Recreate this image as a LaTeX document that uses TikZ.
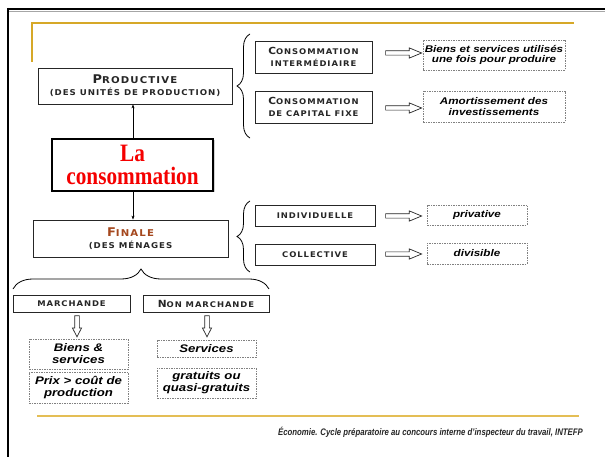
\documentclass[tikz,border=0pt]{standalone}
\usepackage{fontspec}
\setmainfont{Liberation Sans}
\newfontfamily\cop[FakeStretch=1.08,LetterSpace=12]{DejaVu Sans}
\newfontfamily\redser[FakeStretch=0.85]{Liberation Serif}
\newfontfamily\bi[FakeStretch=1.2]{Liberation Sans}
\newfontfamily\foot[FakeStretch=0.82]{Liberation Sans}
\usetikzlibrary{shapes.arrows,decorations.pathreplacing,arrows.meta,shadows}
\definecolor{goldA}{RGB}{214,168,40}
\definecolor{goldB}{RGB}{228,190,85}
\definecolor{brownF}{RGB}{165,72,30}
\definecolor{redC}{RGB}{245,0,0}
\newcommand\scHead[2]{{\fontsize{12}{13}\selectfont #1\fontsize{9.4}{13}\selectfont #2}}
\newcommand\scSub[1]{{\fontsize{8}{13}\selectfont #1}}
\newcommand\scBox[2]{{\fontsize{9.8}{15}\selectfont #1\fontsize{7.8}{15}\selectfont #2}}
\begin{document}
\begin{tikzpicture}[x=1pt,y=-1pt,
  solidbox/.style={draw=black!85, line width=0.8pt, inner sep=0pt, align=center, fill=white,
    text=black!85, font=\cop\bfseries, drop shadow={shadow xshift=1pt, shadow yshift=-1pt, opacity=0.3}},
  dbox/.style={draw=black!50, dash pattern=on 1.5pt off 1pt, line width=0.6pt, inner sep=0pt,
    align=center, fill=white, font=\bi\bfseries\itshape\fontsize{9.7}{10.5}\selectfont},
  dboxb/.style={dbox, font=\bi\bfseries\itshape\fontsize{11}{12}\selectfont},
  harrow/.style={single arrow, draw=black!85, fill=white, line width=0.7pt, inner sep=1.8pt,
    minimum height=36pt, single arrow head extend=3pt, single arrow tip angle=45},
  varrow/.style={single arrow, draw=black!85, fill=white, line width=0.7pt, inner sep=2pt,
    minimum height=21pt, single arrow head extend=2.2pt, single arrow tip angle=55,
    shape border rotate=270},
  brc/.style={decorate, decoration={brace, amplitude=13pt}, line width=0.8pt},
  conn/.style={line width=0.6pt, -{Stealth[length=4pt,width=3pt]}}
]
\useasboundingbox (0,0) rectangle (605,457);
\fill[white] (0,0) rectangle (605,457);
% frame
\draw[black!35, line width=1.5pt] (9,11.5) -- (605,11.5);
\draw[black, line width=2.5pt] (8,9) -- (605,9);
\draw[black, line width=2.5pt] (8,8) -- (8,457);
% gold lines
\draw[goldA, line width=1.5pt] (32,62) -- (32,23) -- (574,23);
\draw[goldB, line width=2pt] (37,416) -- (579,416);

% left column
\node[solidbox, minimum width=194pt, minimum height=36pt] (prod) at (135,86)
  {\scHead{P}{RODUCTIVE}\\\scSub{(DES UNITÉS DE PRODUCTION)}};
\node[draw=black, line width=2pt, inner sep=0pt, minimum width=161pt, minimum height=52pt,
  fill=white, drop shadow={shadow xshift=1.5pt, shadow yshift=-1.5pt, opacity=0.35},
  text=redC, align=center, font=\redser\bfseries\fontsize{25}{23}\selectfont] (cons) at (132.5,165)
  {La\\consommation};
\node[solidbox, minimum width=195pt, minimum height=37pt] (fin) at (130.5,238.5)
  {\textcolor{brownF}{\scHead{F}{INALE}}\\\scSub{(DES MÉNAGES}};
\draw[conn] (cons.north -| 133,0) -- (prod.south -| 133,0);
\draw[conn] (cons.south -| 133,0) -- (fin.north -| 133,0);

% productive branch
\coordinate (b1s) at (250,138);
\coordinate (b1e) at (250,34);
\draw[brc] (b1s) -- (b1e);
\node[solidbox, minimum width=117pt, minimum height=32pt] (ci) at (313.5,57)
  {\scBox{C}{ONSOMMATION}\\\scBox{}{INTERMÉDIAIRE}};
\node[solidbox, minimum width=117pt, minimum height=32pt] (cc) at (313.5,107)
  {\scBox{C}{ONSOMMATION}\\\scBox{}{DE CAPITAL FIXE}};
\node[harrow] (a1) at (401,53) {};
\node[harrow] (a2) at (401,108) {};
\node[dbox, minimum width=142pt, minimum height=30pt] (d1) at (494,55)
  {Biens et services utilisés\\une fois pour produire};
\node[dbox, minimum width=142pt, minimum height=31pt] (d2) at (494,106.5)
  {Amortissement des\\investissements};

% finale branch
\coordinate (b2s) at (250,272);
\coordinate (b2e) at (250,201);
\draw[brc] (b2s) -- (b2e);
\node[solidbox, minimum width=120pt, minimum height=21pt] (ind) at (315,215.5)
  {\scBox{}{INDIVIDUELLE}};
\node[solidbox, minimum width=120pt, minimum height=21pt] (col) at (315,254.5)
  {\scBox{}{COLLECTIVE}};
\node[harrow] (a3) at (401,216) {};
\node[harrow] (a4) at (401,254) {};
\node[dbox, minimum width=100pt, minimum height=20pt] (dp) at (477,215) {privative};
\node[dbox, minimum width=100pt, minimum height=21pt] (dd) at (477,253.5) {divisible};

% bottom branch
\coordinate (b3s) at (13,289);
\coordinate (b3e) at (269,289);
\draw[decorate, decoration={brace, amplitude=20pt}, line width=0.8pt] (b3s) -- (b3e);
\node[solidbox, minimum width=117pt, minimum height=17pt] (mar) at (71.5,303.5)
  {\scBox{}{MARCHANDE}};
\node[solidbox, minimum width=126pt, minimum height=17pt] (nm) at (206,303.5)
  {\scBox{N}{ON MARCHANDE}};
\node[varrow] (v1) at (77,324) {};
\node[varrow] (v2) at (207,324) {};
\node[dboxb, minimum width=99pt, minimum height=30pt] (bs) at (78.5,354) {Biens \&\\services};
\node[dboxb, minimum width=99pt, minimum height=31pt] (px) at (78.5,387.5) {Prix > coût de\\production};
\node[dboxb, minimum width=99pt, minimum height=17pt] (sv) at (206.5,348.5) {Services};
\node[dboxb, minimum width=99pt, minimum height=30pt] (gq) at (206.5,383) {gratuits ou\\quasi-gratuits};

% footer
\node[anchor=base east, inner sep=0pt, font=\foot\bfseries\itshape\fontsize{9.5}{10}\selectfont,
  text=black!85] (foot) at (583,435)
  {Économie. Cycle préparatoire au concours interne d’inspecteur du travail, INTEFP};
\end{tikzpicture}
\end{document}
